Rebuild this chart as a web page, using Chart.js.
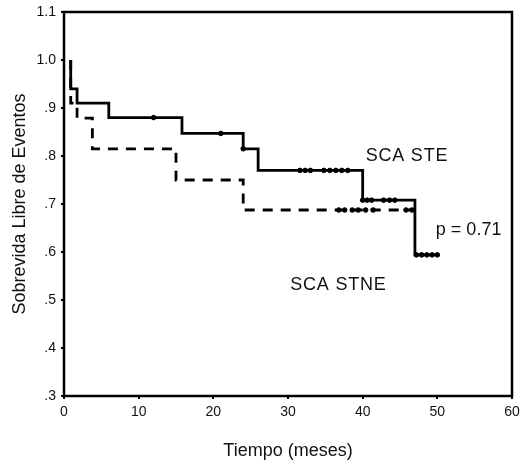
<!DOCTYPE html>
<html>
<head>
<meta charset="utf-8">
<script src="https://cdn.jsdelivr.net/npm/chart.js@4.4.0/dist/chart.umd.min.js"></script>
<style>
  html, body { margin: 0; padding: 0; background: #fff; }
  #wrap { width: 521px; height: 466px; }
</style>
</head>
<body>
<div id="wrap"><canvas id="c" width="521" height="466"></canvas></div>
<script>
// Curvas Kaplan-Meier
const steTimes = [0.9, 0.9, 1.75, 6, 15.8, 24, 26, 40, 47, 50];
const steSurv  = [1.0, 0.94, 0.91, 0.88, 0.847, 0.815, 0.77, 0.708, 0.594, 0.594];
const stneTimes = [0.9, 0.9, 1.75, 3.8, 15, 24, 46.8];
const stneSurv  = [1.0, 0.91, 0.879, 0.815, 0.75, 0.6875, 0.6875];

// Casos censurados
const steCensT = [12, 21, 24, 31.6, 32.3, 33.0, 34.8, 35.6, 36.4, 37.2, 38.0,
                  40.0, 40.6, 41.2, 42.8, 43.6, 44.3, 47.2, 47.9, 48.6, 49.3, 50.0];
const steCensS = [0.88, 0.847, 0.815, 0.77, 0.77, 0.77, 0.77, 0.77, 0.77, 0.77, 0.77,
                  0.708, 0.708, 0.708, 0.708, 0.708, 0.708, 0.594, 0.594, 0.594, 0.594, 0.594];
const stneCensT = [36.8, 37.6, 38.6, 39.4, 40.4, 41.4, 45.8, 46.6];
const stneCensS = [0.6875, 0.6875, 0.6875, 0.6875, 0.6875, 0.6875, 0.6875, 0.6875];

// Ejes
const xTicks = [0, 10, 20, 30, 40, 50, 60];
const yTicks = [0.3, 0.4, 0.5, 0.6, 0.7, 0.8, 0.9, 1.0, 1.1];
const yTickLabels = ['.3', '.4', '.5', '.6', '.7', '.8', '.9', '1.0', '1.1'];

// Textos dentro del gráfico (en coordenadas de datos)
const notes = [
  { text: 'SCA STE', x: 40.4, y: 0.79, spacing: '0.8px' },
  { text: 'SCA STNE', x: 30.3, y: 0.521, spacing: '0.8px' },
  { text: 'p = 0.71', x: 49.8, y: 0.635, spacing: '0px' }
];

const pts = (xs, ys) => xs.map((x, i) => ({ x: x, y: ys[i] }));
const FONT = "'Liberation Sans', Arial, sans-serif";

// marco completo + anotaciones
const marcoPlugin = {
  id: 'marco',
  afterDatasetsDraw(chart) {
    const { ctx, chartArea: a, scales } = chart;
    ctx.save();
    ctx.strokeStyle = '#000';
    ctx.lineWidth = 2.5;
    ctx.strokeRect(a.left, a.top, a.right - a.left, a.bottom - a.top);
    ctx.fillStyle = '#111';
    ctx.font = '18px ' + FONT;
    ctx.textAlign = 'left';
    ctx.textBaseline = 'alphabetic';
    notes.forEach(n => {
      ctx.letterSpacing = n.spacing;
      ctx.fillText(n.text, scales.x.getPixelForValue(n.x), scales.y.getPixelForValue(n.y));
    });
    ctx.restore();
  }
};

const cfg = {
  type: 'line',
  data: {
    datasets: [
      {
        label: 'SCA STE',
        data: pts(steTimes, steSurv),
        stepped: 'before',
        borderColor: '#000',
        borderWidth: 2.8,
        pointRadius: 0,
        fill: false
      },
      {
        label: 'SCA STNE',
        data: pts(stneTimes, stneSurv),
        stepped: 'before',
        borderColor: '#000',
        borderWidth: 2.8,
        borderDash: [10, 8],
        pointRadius: 0,
        fill: false
      },
      {
        label: 'cens STE',
        data: pts(steCensT, steCensS),
        showLine: false,
        pointStyle: 'circle',
        pointRadius: 2.3,
        pointBackgroundColor: '#000',
        pointBorderColor: '#000',
        pointBorderWidth: 1
      },
      {
        label: 'cens STNE',
        data: pts(stneCensT, stneCensS),
        showLine: false,
        pointStyle: 'circle',
        pointRadius: 2.3,
        pointBackgroundColor: '#000',
        pointBorderColor: '#000',
        pointBorderWidth: 1
      }
    ]
  },
  options: {
    responsive: false,
    animation: false,
    layout: { padding: { top: 12, right: 9, left: 0, bottom: 0 } },
    plugins: { legend: { display: false }, tooltip: { enabled: false } },
    scales: {
      x: {
        type: 'linear',
        min: 0, max: 60,
        afterFit: s => { s.height = 70; s.paddingLeft = 0; s.paddingRight = 0; },
        afterBuildTicks: s => { s.ticks = xTicks.map(v => ({ value: v })); },
        grid: { drawOnChartArea: false, drawTicks: true, tickLength: 3, color: '#000', lineWidth: 2 },
        border: { display: false },
        ticks: { color: '#111', padding: 5, font: { family: FONT, size: 14 }, maxRotation: 0 },
        title: {
          display: true, text: 'Tiempo (meses)', color: '#111',
          font: { family: FONT, size: 18 }, padding: { top: 0, bottom: 4 }
        }
      },
      y: {
        type: 'linear',
        min: 0.3, max: 1.1,
        afterFit: s => { s.width = 64; s.paddingTop = 0; s.paddingBottom = 0; },
        afterBuildTicks: s => { s.ticks = yTicks.map(v => ({ value: v })); },
        grid: { drawOnChartArea: false, drawTicks: true, tickLength: 3, color: '#000', lineWidth: 2 },
        border: { display: false },
        ticks: {
          color: '#111', padding: 5, font: { family: FONT, size: 14 },
          callback: (v, i) => yTickLabels[i]
        },
        title: {
          display: true, text: 'Sobrevida Libre de Eventos', color: '#111',
          font: { family: FONT, size: 18 }, padding: { top: 9, bottom: 0 }
        }
      }
    }
  },
  plugins: [marcoPlugin]
};

new Chart(document.getElementById('c').getContext('2d'), cfg);
</script>
</body>
</html>
